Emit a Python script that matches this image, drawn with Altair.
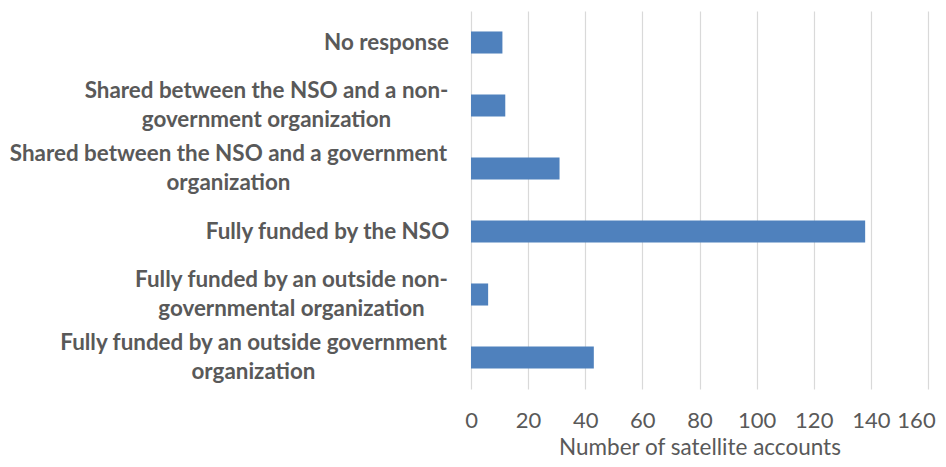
import altair as alt
import pandas as pd

categories = [
    "No response",
    "Shared between the NSO and a non-\ngovernment organization",
    "Shared between the NSO and a government\norganization",
    "Fully funded by the NSO",
    "Fully funded by an outside non-\ngovernmental organization",
    "Fully funded by an outside government\norganization",
]
values = [11, 12, 31, 138, 6, 43]
x_ticks = [0, 20, 40, 60, 80, 100, 120, 140, 160]

df = pd.DataFrame({"category": categories, "count": values})

TEXT = "#595959"
FONT = "Lato"

# label block centring (lines centred within each label, block right-aligned)
label_pad = [85, 205, 243, 144, 180, 218]
pad_conditions = [
    {"test": f"indexof(datum.value, {c.split(chr(10))[0][:32]!r}) === 0", "value": p}
    for c, p in zip(categories, label_pad)
]
offset_condition = {"test": "indexof(datum.value, '\\n') >= 0", "value": -14.25}

chart = (
    alt.Chart(df)
    .mark_bar(color="#4F81BD")
    .encode(
        x=alt.X(
            "count:Q",
            scale=alt.Scale(domain=[0, 160], nice=False),
            axis=alt.Axis(
                values=x_ticks,
                title="Number of satellite accounts",
                grid=True,
                gridColor="#D9D9D9",
                gridWidth=1.2,
                domain=False,
                ticks=False,
                labelFlush=False,
                labelFont=FONT,
                labelFontSize=22,
                labelColor=TEXT,
                labelPadding=21,
                labelOffset={"condition": {"test": "datum.value === 160", "value": -12}, "value": 0},
                titleFont=FONT,
                titleFontSize=22.5,
                titleFontWeight="normal",
                titleColor=TEXT,
                titleBaseline="alphabetic",
                titleY=65,
            ),
        ),
        y=alt.Y(
            "category:N",
            sort=categories,
            scale=alt.Scale(paddingInner=0.65, paddingOuter=0.325),
            axis=alt.Axis(
                title=None,
                domain=False,
                ticks=False,
                grid=False,
                labelExpr="split(datum.label, '\\n')",
                labelFont=FONT,
                labelFontSize=22.4,
                labelFontWeight="bold",
                labelColor=TEXT,
                labelAlign="center",
                labelPadding={"condition": pad_conditions, "value": 22},
                labelOffset={"condition": offset_condition, "value": 0},
                labelLineHeight=28.5,
                labelLimit=0,
            ),
        ),
    )
    .properties(
        width=457,
        height=378,
        autosize=alt.AutoSizeParams(type="none"),
        padding={"left": 463, "top": 3, "right": 10, "bottom": 70},
    )
    .configure_view(stroke=None)
)

chart.save("out.html", embed_options={"renderer": "svg", "actions": False})
